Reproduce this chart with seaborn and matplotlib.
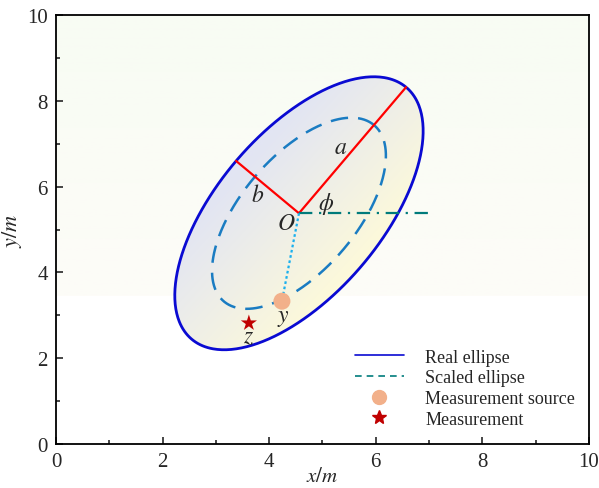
import numpy as np
import pandas as pd
import matplotlib
matplotlib.use("Agg")
import matplotlib.pyplot as plt
from matplotlib.lines import Line2D
from matplotlib.path import Path
from matplotlib.patches import PathPatch
import seaborn as sns

# --- Geometry ---
center = [4.56, 5.38]            # O
major_tip = [6.57, 8.32]         # end of semi-axis a
minor_tip = [3.38, 6.60]         # end of semi-axis b
scale = 0.70                     # scaled ellipse factor
phi_line_end = 7.05              # end of horizontal reference line
source_y = [4.24, 3.33]          # measurement source y
measure_z = [3.62, 2.82]         # measurement z

labels = {"a": [5.35, 6.92], "b": [3.79, 5.80], "O": [4.33, 5.13],
          r"\phi": [5.07, 5.62], "y": [4.26, 2.96], "z": [3.62, 2.49]}

sns.set_style("ticks")
plt.rcParams["font.family"] = ["Liberation Serif", "DejaVu Serif"]
plt.rcParams["mathtext.fontset"] = "stix"

fig = plt.figure(figsize=(5.99, 4.89), dpi=100)
ax = fig.add_axes([0.0935, 0.09, 0.8895, 0.877])
ax.set_xlim(0, 10)
ax.set_ylim(0, 10)

# background gradient in the upper part of the axes
grad = np.linspace(0, 1, 256)[:, None, None]
top_col = np.array([248, 252, 243]) / 255
low_col = np.array([253, 252, 248]) / 255
bg = top_col * (1 - grad) + low_col * grad
ax.imshow(bg, extent=[0, 10, 3.45, 10], aspect="auto", zorder=0, origin="upper")

c = np.array(center)
u = np.array(major_tip) - c
v = np.array(minor_tip) - c
t = np.linspace(0, 2 * np.pi, 400)
real = pd.DataFrame({"x": c[0] + u[0] * np.cos(t) + v[0] * np.sin(t),
                     "y": c[1] + u[1] * np.cos(t) + v[1] * np.sin(t)})
scaled = pd.DataFrame({"x": c[0] + scale * (u[0] * np.cos(t) + v[0] * np.sin(t)),
                       "y": c[1] + scale * (u[1] * np.cos(t) + v[1] * np.sin(t))})

# gradient fill inside the real ellipse (lavender upper-left -> yellow lower-right)
gx, gy = np.meshgrid(np.linspace(0, 1, 200), np.linspace(0, 1, 200))
w = np.clip((gx + (1 - gy)) / 2, 0, 1)
w = np.clip((w - 0.3) / 0.45, 0, 1)[..., None]
c1 = np.array([226, 229, 243]) / 255
c2 = np.array([255, 251, 216]) / 255
fill = c1 * (1 - w) + c2 * w
patch = PathPatch(Path(real[["x", "y"]].values), facecolor="none", edgecolor="none")
ax.add_patch(patch)
im = ax.imshow(fill, extent=[real.x.min(), real.x.max(), real.y.min(), real.y.max()],
               aspect="auto", origin="lower", zorder=1)
im.set_clip_path(patch)

sns.lineplot(data=real, x="x", y="y", sort=False, color="#0a0ad2", lw=2, ax=ax, zorder=3)
sns.lineplot(data=scaled, x="x", y="y", sort=False, color="#1a7cc2", lw=1.8, ax=ax,
             zorder=3, dashes=False, linestyle=(0, (7, 4)))

ax.plot([c[0], major_tip[0]], [c[1], major_tip[1]], color="red", lw=1.6, zorder=4)
ax.plot([c[0], minor_tip[0]], [c[1], minor_tip[1]], color="red", lw=1.6, zorder=4)
ax.plot([c[0], phi_line_end], [c[1], c[1]], color="#007b7b", lw=1.6,
        linestyle=(0, (6, 3, 1, 3)), zorder=4)
ax.plot([c[0], source_y[0]], [c[1], source_y[1]], color="#1ab0ee", lw=1.6,
        linestyle=(0, (1.2, 1.2)), zorder=4)

sns.scatterplot(x=[source_y[0]], y=[source_y[1]], color="#f2b08a", s=150,
                edgecolor="none", ax=ax, zorder=5)
sns.scatterplot(x=[measure_z[0]], y=[measure_z[1]], color="#c00000", marker="*",
                s=150, edgecolor="none", ax=ax, zorder=5)

for k, (lx, ly) in labels.items():
    ax.text(lx, ly, f"${k}$", fontsize=17, ha="center", va="center", zorder=6)

ax.set_xticks([0, 2, 4, 6, 8, 10])
ax.set_yticks([0, 2, 4, 6, 8, 10])
ax.set_xticks([1, 3, 5, 7, 9], minor=True)
ax.set_yticks([1, 3, 5, 7, 9], minor=True)
ax.tick_params(which="both", direction="in", top=False, right=False,
               labelsize=15, width=1.2, pad=6)
ax.tick_params(which="major", length=5)
ax.tick_params(which="minor", length=3)
for sp in ax.spines.values():
    sp.set_linewidth(1.3)
    sp.set_color("black")
ax.set_xlabel("$x/m$", fontsize=15, labelpad=-3)
ax.set_ylabel("$y/m$", fontsize=16, labelpad=2)

handles = [
    Line2D([], [], color="#0a0ad2", lw=1.2, label="Real ellipse"),
    Line2D([], [], color="#007b7b", lw=1.2, linestyle=(0, (4, 3)), label="Scaled ellipse"),
    Line2D([], [], color="#f2b08a", marker="o", ms=10, lw=0, label="Measurement source"),
    Line2D([], [], color="#c00000", marker="*", ms=10, lw=0, label="Measurement"),
]
ax.legend(handles=handles, loc="lower right", frameon=False, fontsize=13,
          handlelength=2.7, handletextpad=1.2, labelspacing=0.2,
          bbox_to_anchor=(0.995, 0.013), borderaxespad=0.2)

fig.savefig("out.png", dpi=100)
